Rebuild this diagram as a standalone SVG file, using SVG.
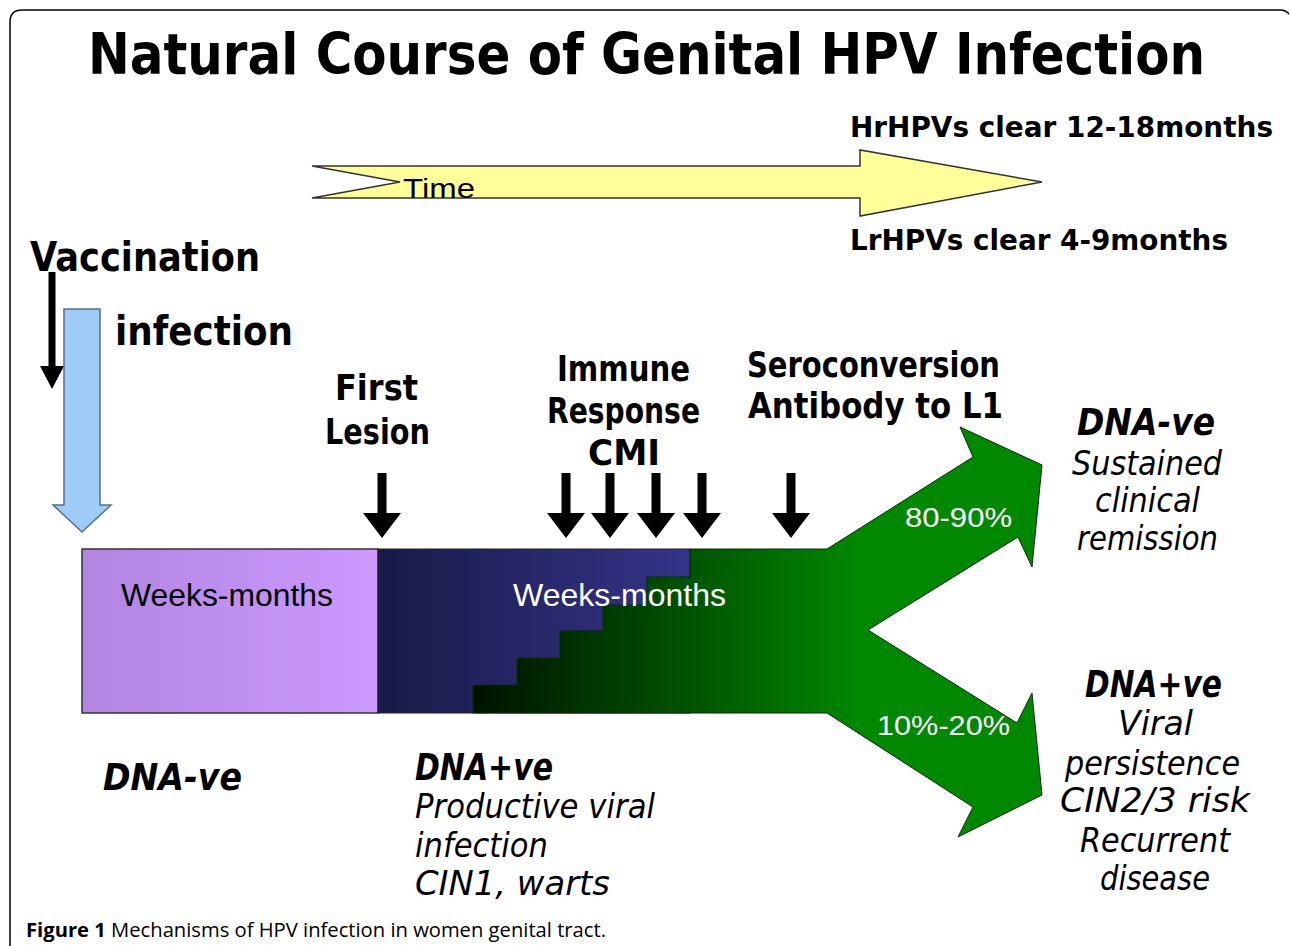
<svg xmlns="http://www.w3.org/2000/svg" width="1290" height="946" viewBox="0 0 1290 946">
<style>
.c{font-family:"DejaVu Sans","Liberation Sans",sans-serif;font-weight:bold;fill:#000}
.tt{font-family:"DejaVu Sans Condensed","DejaVu Sans",sans-serif;font-stretch:condensed;font-weight:bold;fill:#000}
.ci{font-family:"DejaVu Sans","Liberation Sans",sans-serif;font-style:italic;fill:#000}
.cib{font-family:"DejaVu Sans","Liberation Sans",sans-serif;font-style:italic;font-weight:bold;fill:#000}
.a{font-family:"Liberation Sans",Arial,sans-serif}
.cap{font-family:"Open Sans","Liberation Sans",sans-serif;font-size:20px;fill:#000}
.blk{fill:#000}
</style>
<defs>
<linearGradient id="gPurple" x1="0" y1="0" x2="1" y2="0">
<stop offset="0" stop-color="#b185e0"/><stop offset="1" stop-color="#cc99ff"/>
</linearGradient>
<linearGradient id="gBlue" x1="378" y1="0" x2="690" y2="0" gradientUnits="userSpaceOnUse">
<stop offset="0" stop-color="#1a1a48"/><stop offset="1" stop-color="#34348a"/>
</linearGradient>
<linearGradient id="gGreen" x1="473" y1="0" x2="860" y2="0" gradientUnits="userSpaceOnUse">
<stop offset="0" stop-color="#001200"/><stop offset="1" stop-color="#008800"/>
</linearGradient>
<path id="dn" d="M-4.5,0 H4.5 V40 H19 L0,65 L-19,40 H-4.5 Z"/>
</defs>
<rect width="1290" height="946" fill="#fff"/>
<path d="M10,946 V22 Q10,10 22,10 H1280 Q1286,10 1289,14" fill="none" stroke="#000" stroke-width="1.5"/>

<g id="title">
<text class="tt" x="88" y="74" font-size="57" textLength="1117" lengthAdjust="spacingAndGlyphs">Natural Course of Genital HPV Infection</text>
</g>

<g id="time-arrow">
<path d="M312,166 H860 V150 L1042,182 L860,216 V198 H312 L400,182 Z" fill="#ffff99" stroke="#333" stroke-width="1.5"/>
<text class="a" x="403" y="198" font-size="28" textLength="72" lengthAdjust="spacingAndGlyphs">Time</text>
</g>
<g id="hr">
<text class="c" x="850" y="137" font-size="29" textLength="423" lengthAdjust="spacingAndGlyphs">HrHPVs clear 12-18months</text>
</g>
<g id="lr">
<text class="c" x="850" y="250" font-size="29" textLength="378" lengthAdjust="spacingAndGlyphs">LrHPVs clear 4-9months</text>
</g>

<g id="vaccination">
<text class="c" x="30" y="271" font-size="41" textLength="230" lengthAdjust="spacingAndGlyphs">Vaccination</text>
<path d="M48.5,272 H55.5 V366 H64 L52,389 L40,366 H48.5 Z" class="blk"/>
</g>
<g id="infection">
<path d="M64,309 H100 V505 H111 L82,532 L53,505 H64 Z" fill="#9fcbf7" stroke="#56708c" stroke-width="1.5"/>
<text class="c" x="115" y="345" font-size="40" textLength="178" lengthAdjust="spacingAndGlyphs">infection</text>
</g>

<g id="bar">
<rect x="82" y="549" width="296" height="164" fill="url(#gPurple)" stroke="#333" stroke-width="1.5"/>
<rect x="378" y="549" width="312" height="164" fill="url(#gBlue)" stroke="#222" stroke-width="1"/>
<path d="M690,549 H827 L973,457 L960,427 L1042,465 L1032,567 L1018,537 L868,630 L1017,723 L1032,693 L1042,795 L958,837 L973,807 L827,713 H473 V685 H517 V658 H560 V631 H603 V605 H647 V577 H690 Z" fill="url(#gGreen)" stroke="#0a2a0a" stroke-width="1"/>
<text class="a" x="121" y="606" font-size="32" textLength="212" lengthAdjust="spacingAndGlyphs" fill="#000">Weeks-months</text>
<text class="a" x="513" y="606" font-size="32" textLength="213" lengthAdjust="spacingAndGlyphs" fill="#fff">Weeks-months</text>
<text class="a" x="905" y="527" font-size="28" textLength="107" lengthAdjust="spacingAndGlyphs" fill="#fff">80-90%</text>
<text class="a" x="877" y="735" font-size="28" textLength="133" lengthAdjust="spacingAndGlyphs" fill="#fff">10%-20%</text>
</g>

<g id="first-lesion">
<text class="c" x="335" y="400" font-size="35" textLength="83" lengthAdjust="spacingAndGlyphs">First</text>
<text class="c" x="325" y="444" font-size="35" textLength="105" lengthAdjust="spacingAndGlyphs">Lesion</text>
<use href="#dn" x="382" y="473"/>
</g>
<g id="immune">
<text class="c" x="557" y="381" font-size="36" textLength="133" lengthAdjust="spacingAndGlyphs">Immune</text>
<text class="c" x="547" y="423" font-size="36" textLength="153" lengthAdjust="spacingAndGlyphs">Response</text>
<text class="c" x="588" y="465" font-size="36" textLength="72" lengthAdjust="spacingAndGlyphs">CMI</text>
<use href="#dn" x="566" y="473"/>
<use href="#dn" x="610" y="473"/>
<use href="#dn" x="656" y="473"/>
<use href="#dn" x="702" y="473"/>
</g>
<g id="seroconversion">
<text class="c" x="747" y="377" font-size="35" textLength="253" lengthAdjust="spacingAndGlyphs">Seroconversion</text>
<text class="c" x="748" y="418" font-size="35" textLength="255" lengthAdjust="spacingAndGlyphs">Antibody to L1</text>
<use href="#dn" x="791" y="473"/>
</g>

<g id="remission">
<text class="cib" x="1077" y="435" font-size="37" textLength="138" lengthAdjust="spacingAndGlyphs">DNA-ve</text>
<text class="ci" x="1072" y="475" font-size="33" textLength="150" lengthAdjust="spacingAndGlyphs">Sustained</text>
<text class="ci" x="1095" y="512" font-size="33" textLength="105" lengthAdjust="spacingAndGlyphs">clinical</text>
<text class="ci" x="1077" y="550" font-size="33" textLength="141" lengthAdjust="spacingAndGlyphs">remission</text>
</g>
<g id="persistence">
<text class="cib" x="1085" y="697" font-size="37" textLength="137" lengthAdjust="spacingAndGlyphs">DNA+ve</text>
<text class="ci" x="1118" y="735" font-size="33" textLength="75" lengthAdjust="spacingAndGlyphs">Viral</text>
<text class="ci" x="1065" y="775" font-size="33" textLength="175" lengthAdjust="spacingAndGlyphs">persistence</text>
<text class="ci" x="1060" y="812" font-size="33" textLength="190" lengthAdjust="spacingAndGlyphs">CIN2/3 risk</text>
<text class="ci" x="1080" y="852" font-size="33" textLength="150" lengthAdjust="spacingAndGlyphs">Recurrent</text>
<text class="ci" x="1100" y="890" font-size="33" textLength="110" lengthAdjust="spacingAndGlyphs">disease</text>
</g>

<g id="dna-neg">
<text class="cib" x="103" y="790" font-size="37" textLength="139" lengthAdjust="spacingAndGlyphs">DNA-ve</text>
</g>
<g id="dna-pos">
<text class="cib" x="415" y="780" font-size="37" textLength="138" lengthAdjust="spacingAndGlyphs">DNA+ve</text>
<text class="ci" x="415" y="818" font-size="33" textLength="240" lengthAdjust="spacingAndGlyphs">Productive viral</text>
<text class="ci" x="415" y="857" font-size="33" textLength="133" lengthAdjust="spacingAndGlyphs">infection</text>
<text class="ci" x="415" y="895" font-size="33" textLength="195" lengthAdjust="spacingAndGlyphs">CIN1, warts</text>
</g>

<g id="caption">
<text class="cap" x="26" y="937" textLength="580" lengthAdjust="spacingAndGlyphs"><tspan font-weight="bold">Figure 1</tspan> Mechanisms of HPV infection in women genital tract.</text>
</g>
</svg>
